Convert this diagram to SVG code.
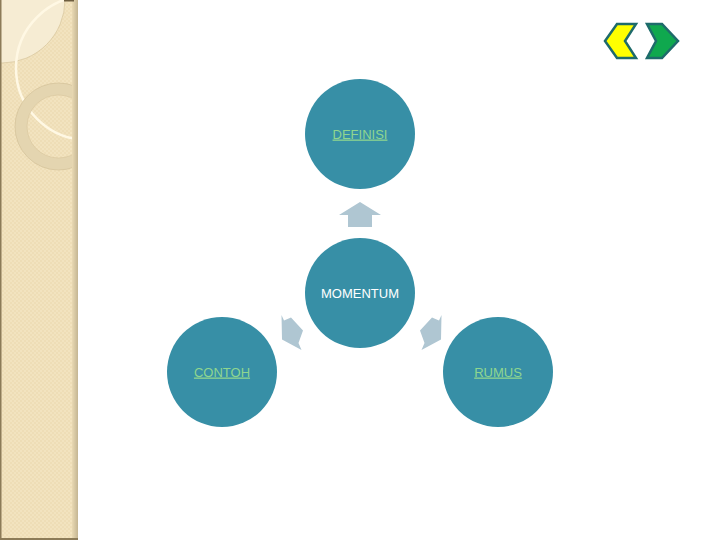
<svg xmlns="http://www.w3.org/2000/svg" width="720" height="540" viewBox="0 0 720 540">
<defs>
<style>
.node{fill:#378FA6}
.lbl{font-family:"Liberation Sans",Arial,sans-serif;font-size:13px;text-anchor:middle;fill:#8FD68F;text-decoration:underline}
.lblw{font-family:"Liberation Sans",Arial,sans-serif;font-size:13px;text-anchor:middle;fill:#FFFFFF}
.arr{fill:#AFC6D2}
.nav{stroke:#1E6B6B;stroke-width:2.5;stroke-linejoin:miter}
</style>
<pattern id="chk" width="4" height="4" patternUnits="userSpaceOnUse">
<rect width="4" height="4" fill="#F2E3BF"/>
<rect width="2" height="2" fill="#EEDDB6"/>
<rect x="2" y="2" width="2" height="2" fill="#EEDDB6"/>
</pattern>
<linearGradient id="edge" x1="0" y1="0" x2="1" y2="0">
<stop offset="0" stop-color="#E9D9B3"/>
<stop offset="1" stop-color="#C4B592"/>
</linearGradient>
<clipPath id="pc"><rect x="0" y="0" width="78" height="540"/></clipPath>
</defs>
<rect width="720" height="540" fill="#FFFFFF"/>
<g id="panel" clip-path="url(#pc)">
<rect x="0" y="0" width="78" height="540" fill="url(#chk)"/>
<circle cx="2" cy="0" r="63" fill="#F6ECD3" stroke="#D9C8A0" stroke-width="0.8"/>
<circle cx="88" cy="68" r="72" fill="none" stroke="#FFF8E4" stroke-width="2.5"/>
<circle cx="58.5" cy="126.5" r="37.5" fill="none" stroke="#E4D5B0" stroke-width="12"/>
<circle cx="58.5" cy="126.5" r="43.5" fill="none" stroke="#D6C49C" stroke-width="0.8"/>
<circle cx="58.5" cy="126.5" r="31.5" fill="none" stroke="#D6C49C" stroke-width="0.6"/>
<rect x="72" y="0" width="6" height="540" fill="url(#edge)"/>
<rect x="0" y="0" width="1.5" height="540" fill="#8C7B58"/>
<rect x="0" y="538" width="78" height="2" fill="#8C7B58"/>
<rect x="64" y="0" width="10" height="1.5" fill="#6E5E40"/>
</g>
<g id="nav">
<polygon class="nav" points="605,41 617,24 636,24 625,41 636,58 617,58" fill="#FFFF00"/>
<polygon class="nav" points="647,24 662,24 678,41 662,58 647,58 656,41" fill="#0FA84E"/>
</g>
<g id="connectors">
<polygon class="arr" points="360,202 381,215 372,215 372,227 348,227 348,215 339,215"/>
<polygon class="arr" points="281.5,315 284,320.5 291,317.5 303,330.5 298.5,343 301.5,350 282,339.5"/>
<polygon class="arr" points="441.5,315 439,320.5 432,317.5 420,330.5 424.5,343 421.5,350 441,339.5"/>
</g>
<g id="definisi">
<circle class="node" cx="360" cy="134" r="55"/>
<text class="lbl" x="360" y="138.5">DEFINISI</text>
</g>
<g id="momentum">
<circle class="node" cx="360" cy="293" r="55"/>
<text class="lblw" x="360" y="297.5">MOMENTUM</text>
</g>
<g id="contoh">
<circle class="node" cx="222" cy="372" r="55"/>
<text class="lbl" x="222" y="376.5">CONTOH</text>
</g>
<g id="rumus">
<circle class="node" cx="498" cy="372" r="55"/>
<text class="lbl" x="498" y="376.5">RUMUS</text>
</g>
</svg>
